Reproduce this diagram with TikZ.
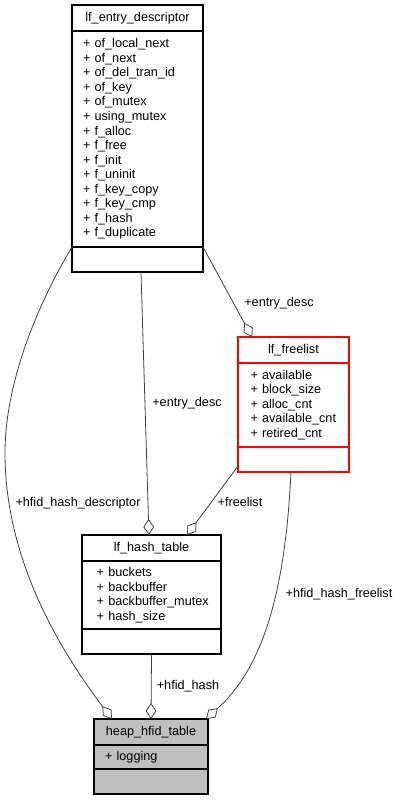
\documentclass[tikz,border=0pt]{standalone}
\usepackage{fontspec}
\setmainfont{Liberation Sans}
\usetikzlibrary{arrows.meta,positioning}
\definecolor{edgegray}{RGB}{64,64,64}
\definecolor{boxred}{RGB}{255,0,0}
\definecolor{boxgray}{RGB}{191,191,191}
\hyphenpenalty=10000
\exhyphenpenalty=10000
\hbadness=10000
\hfuzz=5pt
\tikzset{
  clsbox/.style={draw=black, line width=0.8pt, inner sep=0pt, outer sep=0pt},
  clstitle/.style={clsbox, minimum height=19.5pt},
  clsattr/.style={clsbox, align=left, inner ysep=0pt},
  clsops/.style={clsbox, minimum height=18.75pt},
  assoc/.style={draw=edgegray, line width=0.6pt, -{Diamond[open,length=12pt,width=8pt]}},
  elabel/.style={inner sep=0pt}
}

\begin{document}
\begin{tikzpicture}[x=0.75pt, y=-0.75pt, font=\fontsize{9.5}{10.9}\selectfont]
        \useasboundingbox (0,0) rectangle (401,801);
        % --- lf_entry_descriptor ---
        \node[clstitle, minimum width=98.25pt] (ed) at (137.5,18) {lf\_entry\_descriptor};
        \node[clsattr, below=0pt of ed, text width=81.75pt, inner xsep=8.25pt, minimum height=162pt] (ed-attr) {%
            + of\_local\_next\\+ of\_next\\+ of\_del\_tran\_id\\+ of\_key\\+ of\_mutex\\+ using\_mutex\\+ f\_alloc\\%
            + f\_free\\+ f\_init\\+ f\_uninit\\+ f\_key\_copy\\+ f\_key\_cmp\\+ f\_hash\\+ f\_duplicate};
        \node[clsops, below=0pt of ed-attr, minimum width=98.25pt] (ed-ops) {};
        % --- lf_freelist ---
        \node[clstitle, draw=boxred, minimum width=83.25pt] (fl) at (293.5,350) {lf\_freelist};
        \node[clsattr, draw=boxred, below=0pt of fl, text width=64.5pt, inner xsep=9.375pt, minimum height=63pt] (fl-attr) {%
            + available\\+ block\_size\\+ alloc\_cnt\\+ available\_cnt\\+ retired\_cnt};
        \node[clsops, draw=boxred, below=0pt of fl-attr, minimum width=83.25pt] (fl-ops) {};
        % --- lf_hash_table ---
        \node[clstitle, minimum width=104.25pt] (ht) at (151.5,548) {lf\_hash\_table};
        \node[clsattr, below=0pt of ht, text width=82.25pt, inner xsep=11pt, minimum height=51pt] (ht-attr) {%
            + buckets\\+ backbuffer\\+~backbuffer\_mutex\\+ hash\_size};
        \node[clsops, below=0pt of ht-attr, minimum width=104.25pt] (ht-ops) {};
        % --- heap_hfid_table ---
        \node[clstitle, fill=boxgray, minimum width=85.5pt] (heap) at (151,732) {heap\_hfid\_table};
        \node[clsattr, fill=boxgray, below=0pt of heap, text width=69pt, inner xsep=8.25pt, minimum height=18pt] (heap-attr) {+ logging};
        \node[clsops, fill=boxgray, below=0pt of heap-attr, minimum width=85.5pt] (heap-ops) {};
        % --- Associations ---
        \draw[assoc] (ed-ops.north west) .. controls (40,300) and (5,380) .. (5,453)
            .. controls (5,560) and (60,650) .. ([xshift=13.5pt]heap.north west);
        \draw[assoc] ([xshift=2.6pt]ed-ops.south) -- ([xshift=-1.9pt]ht.north);
        \draw[assoc] (ed-ops.north east) -- ([xshift=10.5pt]fl.north west);
        \draw[assoc] ([yshift=-4.9pt]fl-ops.west) -- ([xshift=-25.5pt]ht.north east);
        \draw[assoc] (ht-ops.south) -- (heap.north);
        \draw[assoc] ([xshift=-1.9pt]fl-ops.south) .. controls (285,600) and (260,670) .. ([xshift=-1.5pt]heap.north east);
        % Labels
        \node[elabel] (lbl-desc) at (78,503) {+hfid\_hash\_descriptor};
        \node[elabel] (lbl-entry1) at (187,403) {+entry\_desc};
        \node[elabel] (lbl-entry2) at (279,303) {+entry\_desc};
        \node[elabel] (lbl-free) at (240,502) {+freelist};
        \node[elabel] (lbl-hash) at (188,686) {+hfid\_hash};
        \node[elabel] (lbl-hfree) at (339,594) {+hfid\_hash\_freelist};
\end{tikzpicture}
\end{document}
